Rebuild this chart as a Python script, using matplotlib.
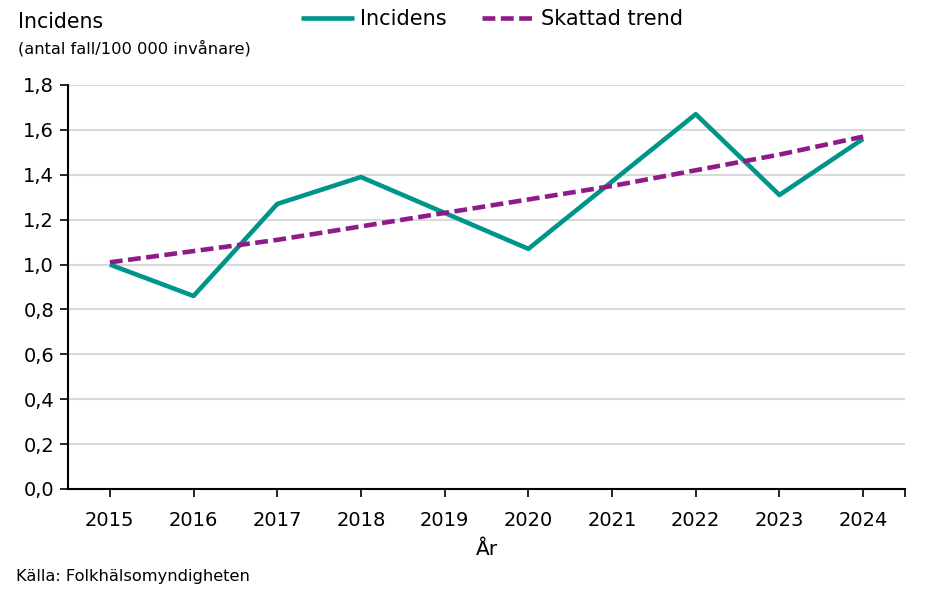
import matplotlib
matplotlib.use("Agg")
import matplotlib.pyplot as plt
from matplotlib.ticker import FuncFormatter

years = [2015, 2016, 2017, 2018, 2019, 2020, 2021, 2022, 2023, 2024]
incidens = [1.00, 0.86, 1.27, 1.39, 1.23, 1.07, 1.37, 1.67, 1.31, 1.56]
trend = [1.01, 1.06, 1.11, 1.17, 1.23, 1.29, 1.35, 1.42, 1.49, 1.57]
yticks = [0.0, 0.2, 0.4, 0.6, 0.8, 1.0, 1.2, 1.4, 1.6, 1.8]

plt.rcParams['font.family'] = ['DejaVu Sans']

fig = plt.figure(figsize=(9.42, 5.89), dpi=100)
ax = fig.add_axes([68/942, 1-489/589, (905-68)/942, (489-85)/589])

teal = '#00958A'
purple = '#8E1B88'

l1, = ax.plot(years, incidens, color=teal, lw=3.3, label='Incidens', solid_capstyle='butt', zorder=3)
l2, = ax.plot(years, trend, color=purple, lw=3.3, ls=(0, (2.8, 1.2)), label='Skattad trend', zorder=4)

ax.set_xlim(years[0] - 0.5, years[-1] + 0.5)
ax.set_ylim(0, 1.8)
ax.set_yticks(yticks)
ax.yaxis.set_major_formatter(FuncFormatter(lambda v, p: f"{v:.1f}".replace('.', ',')))
ax.set_xticks(years)
ax.set_xticklabels([str(y) for y in years])
ax.set_xticks([years[-1] + 0.5], minor=True)

ax.grid(axis='y', color='#D9D9D9', lw=1.5, zorder=0)
ax.set_axisbelow(True)
for s in ['top', 'right']:
    ax.spines[s].set_visible(False)
for s in ['left', 'bottom']:
    ax.spines[s].set_color('black')
    ax.spines[s].set_linewidth(1.5)

ax.tick_params(axis='y', direction='out', length=6, width=1.2, labelsize=14, pad=4, colors='black')
ax.tick_params(axis='x', which='both', direction='out', length=6, width=1.2, labelsize=14, pad=10, colors='black')

ax.set_xlabel('År', fontsize=14.5, labelpad=7)

fig.text(18/942, 1-22/589, 'Incidens', fontsize=14.8, va='center', ha='left')
fig.text(18/942, 1-48/589, '(antal fall/100 000 invånare)', fontsize=11.7, va='center', ha='left')
fig.text(16/942, 1-576/589, 'Källa: Folkhälsomyndigheten', fontsize=11.7, va='center', ha='left')

fig.legend(handles=[l1, l2], loc='center', bbox_to_anchor=(492/942, 1-19/589), ncol=2,
           frameon=False, fontsize=15, handlelength=2.55, columnspacing=1.7, handletextpad=0.3)

fig.savefig('out.png', dpi=100)
